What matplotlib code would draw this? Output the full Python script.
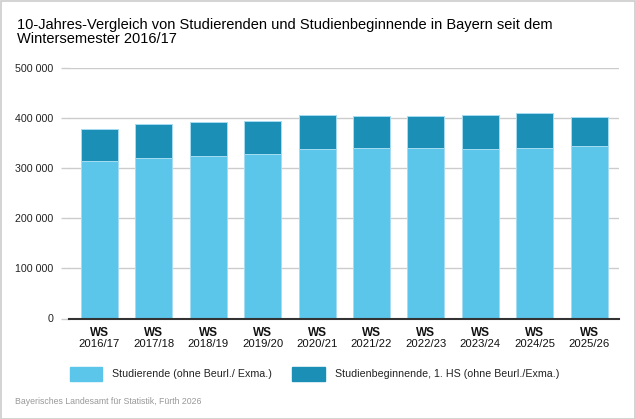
import matplotlib
matplotlib.use('Agg')
import matplotlib.pyplot as plt
from matplotlib.patches import Rectangle
import numpy as np

# Data
semester = ['2016/17', '2017/18', '2018/19', '2019/20', '2020/21',
            '2021/22', '2022/23', '2023/24', '2024/25', '2025/26']
studierende = [313800, 321200, 324600, 328600, 339200,
               341200, 339800, 338600, 341200, 344600]
beginnende = [64800, 68000, 68000, 65200, 66000,
              63400, 64200, 67200, 68600, 56600]
yticks = [0, 100000, 200000, 300000, 400000, 500000]

light = '#5bc5ea'
dark = '#1b8fb6'
plt.rcParams['font.family'] = ['Liberation Sans Narrow', 'Liberation Sans', 'DejaVu Sans']
wide = ['Liberation Sans', 'DejaVu Sans']

W, H = 636, 419
fig = plt.figure(figsize=(W / 100, H / 100), dpi=100)
ax = fig.add_axes([69 / W, 1 - 318.5 / H, 550 / W, 250.5 / H])

x = np.arange(len(semester))
ax.bar(x, studierende, width=0.68, color=light, edgecolor='#a5dcf1', linewidth=0.7, zorder=3)
ax.bar(x, beginnende, bottom=studierende, width=0.68, color=dark, edgecolor='#a5dcf1',
       linewidth=0.7, zorder=3)

ax.set_xlim(-0.56, 9.55)
ax.set_ylim(0, 500000)
ax.set_yticks(yticks)
ax.set_yticklabels([f'{v:,}'.replace(',', ' ') for v in yticks], fontsize=7.7, color='#222222')
ax.tick_params(axis='y', length=6, width=1, color='#cccccc', pad=5)
ax.grid(axis='y', color='#cccccc', linewidth=1, zorder=0)
for s in ['top', 'right', 'left']:
    ax.spines[s].set_visible(False)
ax.spines['bottom'].set_color('#333333')
ax.spines['bottom'].set_linewidth(1.5)
ax.spines['bottom'].set_zorder(4)

ax.set_xticks(x)
ax.set_xticklabels([])
ax.tick_params(axis='x', length=0)
for xi, sem in zip(x, semester):
    ax.text(xi, -17.5 / 250.5, 'WS', transform=ax.get_xaxis_transform(), ha='center',
            va='baseline', fontsize=8.5, fontweight='bold', family=wide, color='#111111')
    ax.text(xi, -28.3 / 250.5, sem, transform=ax.get_xaxis_transform(), ha='center',
            va='baseline', fontsize=8.1, family=wide, color='#111111')

# title
fig.text(17 / W, 1 - 29.3 / H,
         '10-Jahres-Vergleich von Studierenden und Studienbeginnende in Bayern seit dem',
         ha='left', va='baseline', fontsize=10.5, color='#000000')
fig.text(17 / W, 1 - 43.3 / H, 'Wintersemester 2016/17',
         ha='left', va='baseline', fontsize=10.5, color='#000000')

# legend
fig.patches.append(Rectangle((70 / W, 1 - 381 / H), 32 / W, 14 / H,
                             transform=fig.transFigure, color=light))
fig.text(112 / W, 1 - 373.5 / H, 'Studierende (ohne Beurl./ Exma.)', ha='left', va='center',
         fontsize=7.7, color='#222222')
fig.patches.append(Rectangle((292 / W, 1 - 381 / H), 33 / W, 14 / H,
                             transform=fig.transFigure, color=dark))
fig.text(335 / W, 1 - 373.5 / H, 'Studienbeginnende, 1. HS (ohne Beurl./Exma.)', ha='left',
         va='center', fontsize=7.7, color='#222222')

fig.text(15 / W, 1 - 401 / H, 'Bayerisches Landesamt für Statistik, Fürth 2026', ha='left',
         va='center', fontsize=6.3, color='#999999')

# border
fig.patches.append(Rectangle((0.5 / W, 0.5 / H), 1 - 1.5 / W, 1 - 1.5 / H,
                             transform=fig.transFigure, fill=False, edgecolor='#cccccc',
                             linewidth=1.2))

plt.savefig('out.png', dpi=100)
